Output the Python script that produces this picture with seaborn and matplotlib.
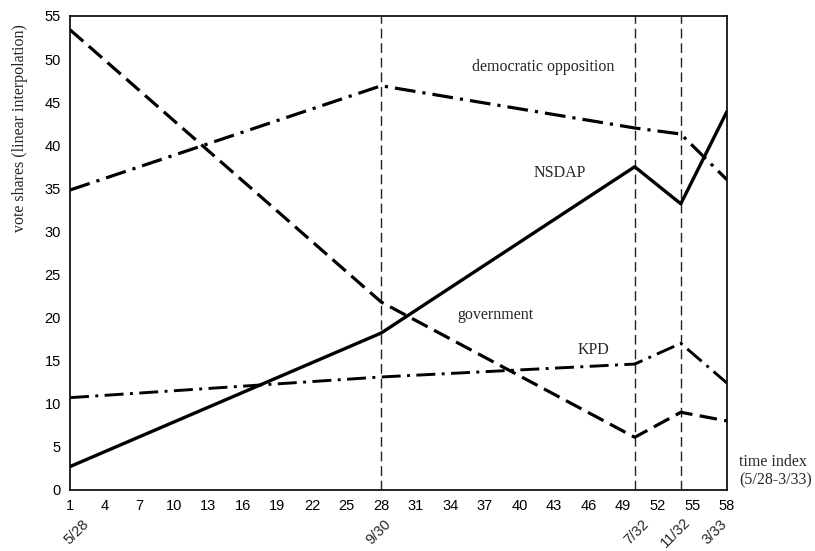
import numpy as np
import pandas as pd
import matplotlib
matplotlib.use("Agg")
import matplotlib.pyplot as plt
import seaborn as sns

sns.set_theme(style="white")
plt.rcParams['font.family'] = ['Liberation Sans', 'DejaVu Sans']

# election dates on the time index (5/28 ... 3/33)
election_idx = [1, 28, 50, 54, 58]
election_labels = ['5/28', '9/30', '7/32', '11/32', '3/33']

# vote shares at the elections (linear interpolation in between)
government = [53.4, 21.8, 6.1, 9.0, 8.0]
democratic_opposition = [34.8, 46.9, 42.0, 41.3, 36.0]
nsdap = [2.7, 18.2, 37.5, 33.2, 43.9]
kpd = [10.7, 13.1, 14.6, 17.0, 12.4]

x_ticks = list(range(1, 59, 3))
y_ticks = list(range(0, 56, 5))

serif = ['Liberation Serif', 'DejaVu Serif']

fig = plt.figure(figsize=(8.15, 5.51), dpi=100)
ax = fig.add_axes([0.0859, 0.111, 0.806, 0.860])

# vertical markers at the later elections
for xv in election_idx[1:4]:
    ax.axvline(xv, color='#222222', lw=1.0, linestyle=(0, (7, 3.5)), zorder=1)

dashdot = (0, (6.5, 2.2, 1.0, 2.2))
series = [
    (government, (0, (5.5, 2.3)), 2.3),
    (democratic_opposition, dashdot, 2.3),
    (nsdap, '-', 2.4),
    (kpd, dashdot, 2.1),
]
for vals, ls, lw in series:
    sns.lineplot(x=election_idx, y=vals, ax=ax, color='black', lw=lw,
                 linestyle=ls, zorder=3)

ax.set_xlim(1, 58)
ax.set_ylim(0, 55)
ax.set_xticks(x_ticks)
ax.set_yticks(y_ticks)
ax.tick_params(axis='both', direction='inout', length=5, width=2,
               labelsize=10.5, colors='black', pad=4)
for sp in ax.spines.values():
    sp.set_color('black')
    sp.set_linewidth(1.2)
ax.set_ylabel('vote shares (linear interpolation)', family=serif, fontsize=11.5)
ax.yaxis.set_label_coords(-0.064, 0.764)

# series labels
txt_kw = dict(family=serif, fontsize=11.5, ha='center', va='center')
ax.text(42.1, 49.1, 'democratic opposition', **txt_kw)
ax.text(43.5, 36.8, 'NSDAP', **txt_kw)
ax.text(37.9, 20.3, 'government', **txt_kw)
ax.text(46.4, 16.2, 'KPD', **txt_kw)

# axis annotation at right
ax.text(1.019, 0.04, 'time index\n(5/28-3/33)', transform=ax.transAxes,
        family=serif, fontsize=11.5, ha='left', va='center', linespacing=1.2)

# rotated election date labels
label_shift = [5, -2, 1, -4, -9]
for xv, lab, dx in zip(election_idx, election_labels, label_shift):
    ax.annotate(lab, xy=(xv, 0), xycoords='data', xytext=(dx, -30.5),
                textcoords='offset points', rotation=45, ha='center', va='center',
                fontsize=10.5, rotation_mode='anchor')

fig.savefig('out.png', dpi=100)
